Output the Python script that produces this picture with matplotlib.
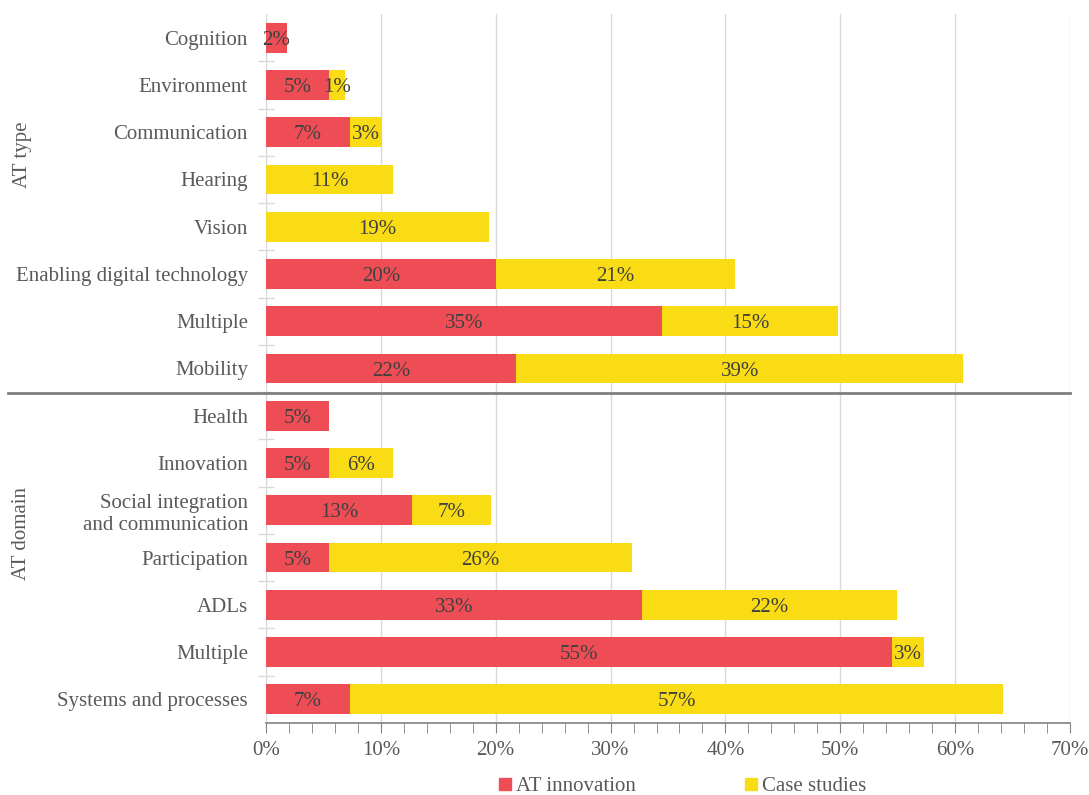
import matplotlib
matplotlib.use("Agg")
import matplotlib.pyplot as plt
from matplotlib.lines import Line2D
from matplotlib.ticker import MultipleLocator, PercentFormatter

# Chart data (percent of studies), top to bottom
categories = [
    "Cognition", "Environment", "Communication", "Hearing", "Vision",
    "Enabling digital technology", "Multiple", "Mobility",
    "Health", "Innovation", "Social integration\nand communication",
    "Participation", "ADLs", "Multiple", "Systems and processes",
]
at_innovation = [1.8, 5.45, 7.3, 0.0, 0.0, 20.0, 34.5, 21.8,
                 5.45, 5.45, 12.7, 5.45, 32.7, 54.5, 7.3]
case_studies = [0.0, 1.4, 2.8, 11.1, 19.4, 20.8, 15.3, 38.9,
                0.0, 5.6, 6.9, 26.4, 22.2, 2.8, 56.9]
group_names = ["AT type", "AT domain"]
series_names = ["AT innovation", "Case studies"]

RED = "#EE4D55"
YELLOW = "#F9DC14"
TXT = "#595959"
BAR_TXT = "#404040"

plt.rcParams["font.family"] = ["Liberation Serif", "DejaVu Serif"]
FS = 15


def pct(v):
    # round half up, as the spreadsheet labels do
    return f"{int(v + 0.5)}%"


fig = plt.figure(figsize=(10.89, 7.95), dpi=100)
W, H = 1089, 795
ax = fig.add_axes([266 / W, 1 - 723 / H, (1070 - 266) / W, (723 - 14) / H])

ypos = list(range(len(categories)))
ax.barh(ypos, at_innovation, height=0.63, color=RED, zorder=3)
ax.barh(ypos, case_studies, left=at_innovation, height=0.63, color=YELLOW, zorder=3)

# segment labels
for y, a, c in zip(ypos, at_innovation, case_studies):
    if a > 0:
        ax.text(a / 2, y, pct(a), ha="center", va="center_baseline",
                fontsize=FS, color=BAR_TXT, zorder=4)
    if c > 0:
        ax.text(a + c / 2, y, pct(c), ha="center", va="center_baseline",
                fontsize=FS, color=BAR_TXT, zorder=4)

ax.set_xlim(0, 70)
ax.set_ylim(len(categories) - 0.5, -0.5)
ax.set_yticks(ypos)
ax.set_yticklabels(categories, fontsize=FS, color=TXT)
ax.tick_params(axis="y", length=0, pad=13)
ax.set_yticks([i + 0.5 for i in range(len(categories) - 1)], minor=True)
ax.tick_params(axis="y", which="minor", direction="inout", length=12,
               color="#d9d9d9", width=1)

ax.xaxis.set_major_locator(MultipleLocator(10))
ax.xaxis.set_minor_locator(MultipleLocator(2))
ax.xaxis.set_major_formatter(PercentFormatter(decimals=0))
ax.tick_params(axis="x", which="both", direction="out", length=7,
               color="#808080", labelsize=FS, labelcolor=TXT, pad=6)
ax.grid(axis="x", color="#d9d9d9", linewidth=1, zorder=0)

for s in ["top", "right"]:
    ax.spines[s].set_visible(False)
ax.spines["left"].set_color("#d9d9d9")
ax.spines["bottom"].set_color("#808080")
ax.spines["bottom"].set_linewidth(1.2)

# separator between the two groups
sep_y = 1 - 393 / H
fig.add_artist(Line2D([8 / W, 1070 / W], [sep_y, sep_y], color="#7f7f7f",
                      linewidth=2, transform=fig.transFigure))

# group labels
fig.text(22 / W, 1 - 155 / H, group_names[0], rotation=90, ha="center",
         va="center", fontsize=FS, color=TXT)
fig.text(22 / W, 1 - 533 / H, group_names[1], rotation=90, ha="center",
         va="center", fontsize=FS, color=TXT)

handles = [Line2D([], [], marker="s", linestyle="none", markersize=8,
                  color=RED),
           Line2D([], [], marker="s", linestyle="none", markersize=8,
                  color=YELLOW)]
fig.legend(handles, series_names, loc="center", ncol=2, frameon=False,
           bbox_to_anchor=(683 / W, 1 - 786 / H), fontsize=FS,
           labelcolor=TXT, handlelength=0.5, handletextpad=0.25,
           columnspacing=5.3, borderpad=0)

fig.savefig("out.png", dpi=100)
